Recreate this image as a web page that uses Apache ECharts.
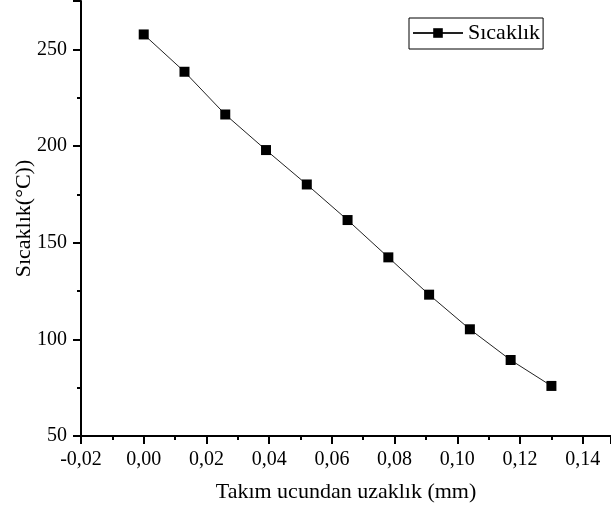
<!DOCTYPE html>
<html>
<head>
<meta charset="utf-8">
<script src="https://cdn.jsdelivr.net/npm/echarts@6/dist/echarts.min.js"></script>
<style>html,body{margin:0;padding:0;background:#fff}#c{width:611px;height:512px}</style>
</head>
<body>
<div id="c"></div>
<script>
var seriesName = 'Sıcaklık';
var xValues = [0, 0.013, 0.026, 0.039, 0.052, 0.065, 0.078, 0.091, 0.104, 0.117, 0.13];
var yValues = [257.7, 238.4, 216.3, 197.9, 180.1, 161.7, 142.4, 123.1, 105.2, 89.3, 75.9];
var xAxisTitle = 'Takım ucundan uzaklık (mm)';
var yAxisTitle = 'Sıcaklık(°C))';

var font = '"Liberation Serif", "Times New Roman", serif';
var chart = echarts.init(document.getElementById('c'));
var data = xValues.map(function (x, i) { return [x, yValues[i]]; });

chart.setOption({
  animation: false,
  backgroundColor: '#fff',
  textStyle: { fontFamily: font },
  grid: { left: 81, top: 1, right: 0, bottom: 76, containLabel: false },
  legend: {
    left: 409, top: 18,
    data: [seriesName],
    itemWidth: 50, itemHeight: 12,
    itemGap: 0,
    borderColor: '#000', borderWidth: 1,
    padding: [4, 3, 5, 3],
    textStyle: { fontFamily: font, fontSize: 22, color: '#000' }
  },
  xAxis: {
    type: 'value',
    min: -0.02, max: 0.149, interval: 0.02,
    name: xAxisTitle, nameLocation: 'middle', nameGap: 45,
    nameMoveOverlap: false,
    nameTextStyle: { fontFamily: font, fontSize: 22, color: '#000' },
    axisLine: { onZero: false, lineStyle: { color: '#000', width: 2 } },
    axisTick: { show: true, length: 8, lineStyle: { color: '#000', width: 2 } },
    minorTick: { show: true, splitNumber: 2, length: 4, lineStyle: { color: '#000', width: 2 } },
    splitLine: { show: false },
    axisLabel: {
      margin: 14, fontFamily: font, fontSize: 20, color: '#000',
      showMaxLabel: false,
      formatter: function (v) {
        var k = Math.round((v + 0.02) / 0.02);
        if (Math.abs((v + 0.02) - k * 0.02) > 1e-6 || v > 0.145) return '';
        return v.toFixed(2).replace('.', ',');
      }
    }
  },
  yAxis: {
    type: 'value',
    min: 50, max: 275, interval: 50,
    name: yAxisTitle, nameLocation: 'middle', nameGap: 46,
    nameMoveOverlap: false,
    nameTextStyle: { fontFamily: font, fontSize: 22, color: '#000' },
    axisLine: { onZero: false, lineStyle: { color: '#000', width: 2 } },
    axisTick: { show: true, length: 8, lineStyle: { color: '#000', width: 2 } },
    minorTick: { show: true, splitNumber: 2, length: 4, lineStyle: { color: '#000', width: 2 } },
    splitLine: { show: false },
    axisLabel: {
      margin: 14, fontFamily: font, fontSize: 20, color: '#000',
      showMaxLabel: false,
      formatter: function (v) { return (v % 50 === 0) ? String(v) : ''; }
    }
  },
  series: [{
    name: seriesName,
    type: 'line',
    data: data,
    symbol: 'rect',
    symbolSize: 10,
    itemStyle: { color: '#000' },
    lineStyle: { color: '#222', width: 1 }
  }]
});
</script>
</body>
</html>
